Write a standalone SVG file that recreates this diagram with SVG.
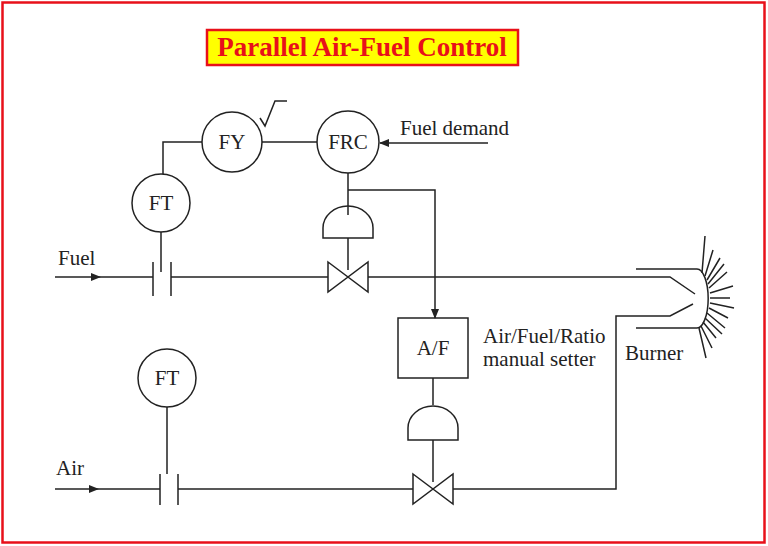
<svg xmlns="http://www.w3.org/2000/svg" width="768" height="546" viewBox="0 0 768 546">
<style>
.l{fill:none;stroke:#222;stroke-width:1.5}
.t{font-family:"Liberation Serif",serif;font-size:21px;fill:#222}
</style>
<defs><marker id="a" markerWidth="10" markerHeight="8" refX="9" refY="4" orient="auto" markerUnits="userSpaceOnUse"><path d="M0,0L10,4L0,8z" fill="#222"/></marker></defs>
<rect width="768" height="546" fill="#fff"/>
<rect x="2.5" y="2.5" width="762" height="540" fill="none" stroke="#e8101a" stroke-width="2.5"/>
<g id="title"><rect x="207" y="30" width="311" height="35" fill="#ffff00" stroke="#e8101a" stroke-width="2.5"/>
<text x="362" y="56" text-anchor="middle" font-family="Liberation Serif,serif" font-size="27" font-weight="bold" fill="#e8101a">Parallel Air-Fuel Control</text></g>
<g id="connectors" class="l">
<path d="M55,277H100" marker-end="url(#a)"/>
<path d="M100,277H153M171,277H328M368,277H670L695,294"/>
<path d="M55,489H98" marker-end="url(#a)"/>
<path d="M98,489H160M178,489H413M453,489H616V316H670L693,304"/>
<path d="M161,232V272M163,174V142H202M262,142H317"/>
<path d="M488,143H380" marker-end="url(#a)"/>
<path d="M348,173V215M348,238V270M348,190H435V318" marker-end="url(#a)"/>
<path d="M433,378V405M433,440V482M167,407V474"/>
<path d="M260,118L265,126L275,101H287"/>
</g>
<g id="fuelOrifice" class="l"><path d="M153,262V296M171,262V296"/></g>
<g id="airOrifice" class="l"><path d="M160,474V505M178,474V505"/></g>
<g id="FT1"><circle cx="161" cy="203" r="29" class="l"/><text x="161" y="210" class="t" text-anchor="middle">FT</text></g>
<g id="FY"><circle cx="232" cy="142" r="30" class="l"/><text x="232" y="149" class="t" text-anchor="middle">FY</text></g>
<g id="FRC"><circle cx="348" cy="142" r="31" class="l"/><text x="348" y="149" class="t" text-anchor="middle">FRC</text></g>
<g id="FT2"><circle cx="167" cy="378" r="29" class="l"/><text x="167" y="385" class="t" text-anchor="middle">FT</text></g>
<g id="fuelValve" class="l"><path d="M323,238V228A25,22 0 0 1 373,228V238Z"/><path d="M328,262L368,292V262L328,292Z"/></g>
<g id="airValve" class="l"><path d="M408,440V428A25,22 0 0 1 458,428V440Z"/><path d="M413,474L453,504V474L413,504Z"/></g>
<g id="AF"><rect x="398" y="318" width="70" height="60" class="l"/><text x="433" y="355" class="t" text-anchor="middle">A/F</text></g>
<g id="burner" class="l">
<path d="M636,269H697A11,29 0 0 1 697,328H636"/>
<path d="M702,273L705,236M705,276L713,250M707,280L720,258M708,284L724,264M709,288L727,272M710,293L733,286M710,298L730,298M710,303L734,308M709,308L728,318M707,313L725,328M705,318L722,334M703,322L716,338M701,326L712,348M699,328L706,358"/>
</g>
<g id="labels" class="t">
<text x="400" y="135">Fuel demand</text>
<text x="58" y="265">Fuel</text>
<text x="56" y="475">Air</text>
<text x="483" y="343">Air/Fuel/Ratio</text>
<text x="483" y="366">manual setter</text>
<text x="625" y="360">Burner</text>
</g>
</svg>
